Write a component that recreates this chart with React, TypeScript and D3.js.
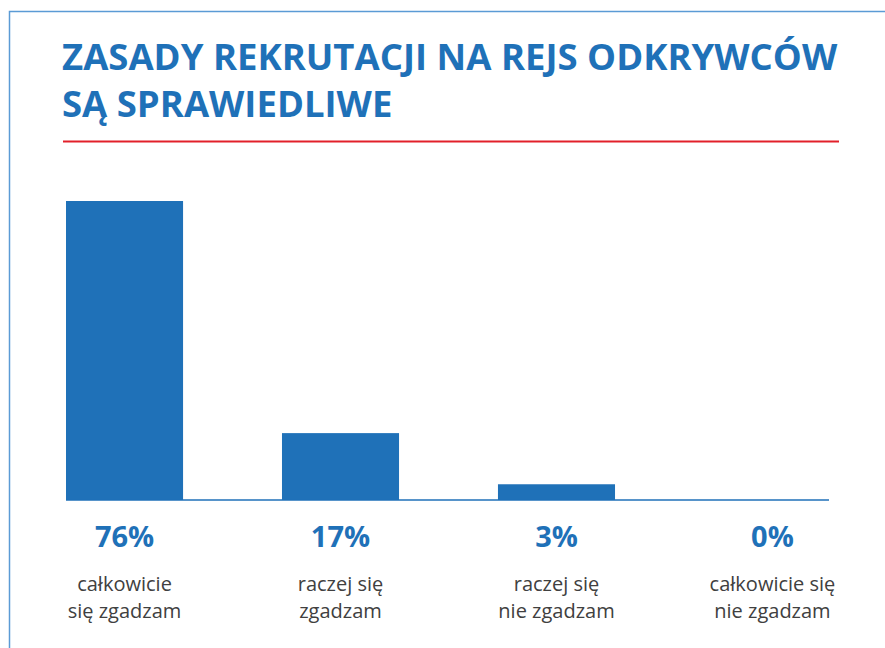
import * as d3 from "d3";
import { useEffect, useRef } from "react";

const categories = [
  ["całkowicie", "się zgadzam"],
  ["raczej się", "zgadzam"],
  ["raczej się", "nie zgadzam"],
  ["całkowicie się", "nie zgadzam"],
];
// printed percentages
const labels = [76, 17, 3, 0];
// bar heights as drawn in the picture (the third bar is a little taller than 3)
const values = [76, 17, 4, 0];
const titleLines = ["ZASADY REKRUTACJI NA REJS ODKRYWCÓW", "SĄ SPRAWIEDLIWE"];

const BLUE = "#1f71b8";
const FONT = "'Open Sans', 'Noto Sans', sans-serif";

const App = () => {
  const ref = useRef<SVGSVGElement>(null);

  useEffect(() => {
    const svg = d3.select(ref.current);
    svg.selectAll("*").remove();
    const width = 885;
    const height = 648;

    svg.attr("viewBox", `0 0 ${width} ${height}`);

    // frame
    svg
      .append("rect")
      .attr("x", 9.5)
      .attr("y", 11.5)
      .attr("width", 900)
      .attr("height", 700)
      .attr("fill", "none")
      .attr("stroke", "#5b9bd5")
      .attr("stroke-width", 1.5);

    // title
    svg
      .append("g")
      .selectAll("text")
      .data(titleLines)
      .join("text")
      .attr("x", 62)
      .attr("y", (d, i) => 70 + i * 47)
      .attr("fill", BLUE)
      .attr("font-family", FONT)
      .attr("font-weight", 700)
      .attr("font-size", 36.5)
      .text((d) => d);

    svg
      .append("line")
      .attr("x1", 63)
      .attr("x2", 839)
      .attr("y1", 141.5)
      .attr("y2", 141.5)
      .attr("stroke", "#e2202a")
      .attr("stroke-width", 2.2);

    const x = d3
      .scaleBand()
      .domain(values.map((d, i) => String(i)))
      .range([66, 831])
      .paddingInner(0.458)
      .paddingOuter(0);

    const y = d3.scaleLinear().domain([0, 76]).range([500, 201]);

    // bars
    svg
      .append("g")
      .selectAll("rect")
      .data(values)
      .join("rect")
      .attr("x", (d, i) => x(String(i)))
      .attr("y", (d) => y(d))
      .attr("width", x.bandwidth())
      .attr("height", (d) => y(0) - y(d))
      .attr("fill", BLUE);

    // baseline
    svg
      .append("line")
      .attr("x1", 66)
      .attr("x2", 829)
      .attr("y1", y(0))
      .attr("y2", y(0))
      .attr("stroke", BLUE)
      .attr("stroke-width", 1.5);

    // value labels
    svg
      .append("g")
      .selectAll("text")
      .data(labels)
      .join("text")
      .attr("x", (d, i) => x(String(i)) + x.bandwidth() / 2)
      .attr("y", 547)
      .attr("text-anchor", "middle")
      .attr("fill", BLUE)
      .attr("font-family", FONT)
      .attr("font-weight", 700)
      .attr("font-size", 29)
      .text((d) => `${d}%`);

    // category labels
    const cat = svg
      .append("g")
      .selectAll("text")
      .data(categories)
      .join("text")
      .attr("x", (d, i) => x(String(i)) + x.bandwidth() / 2)
      .attr("y", 591)
      .attr("text-anchor", "middle")
      .attr("fill", "#404040")
      .attr("font-family", FONT)
      .attr("font-size", 20);
    cat
      .selectAll("tspan")
      .data((d) => d)
      .join("tspan")
      .attr("x", function () {
        return (this.parentNode as SVGTextElement).getAttribute("x");
      })
      .attr("dy", (d, i) => (i === 0 ? 0 : 27))
      .text((d) => d);
  }, []);

  return (
    <svg
      ref={ref}
      width={885}
      height={648}
      style={{ position: "absolute", left: 0, top: 0, background: "#fff" }}
    />
  );
};

export default App;
